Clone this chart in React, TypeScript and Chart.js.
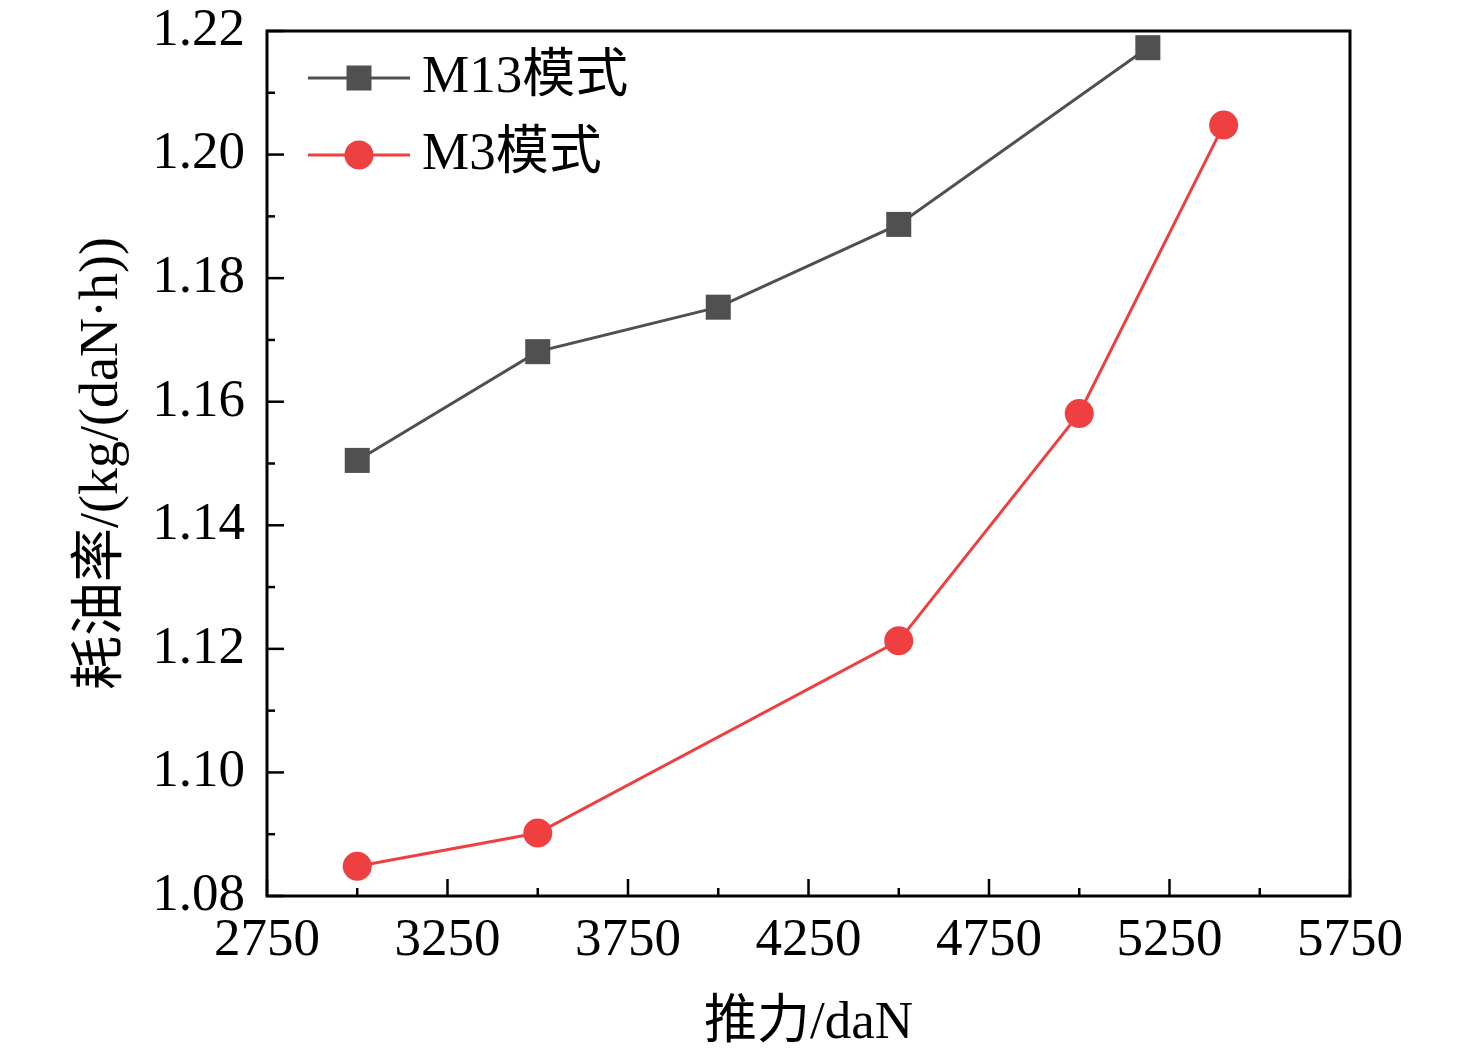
import React, { useEffect, useRef } from "react";
import { Chart, registerables } from "chart.js";

Chart.register(...registerables);

const m13X = [3000, 3500, 4000, 4500, 5190];
const m13Y = [1.1505, 1.1681, 1.1753, 1.1887, 1.2173];
const m3X = [3000, 3500, 4500, 5000, 5400];
const m3Y = [1.0848, 1.0902, 1.1213, 1.1581, 1.2048];
const seriesLabels = ["M13模式", "M3模式"];
const xTickValues = [2750, 3250, 3750, 4250, 4750, 5250, 5750];
const yTickValues = [1.08, 1.1, 1.12, 1.14, 1.16, 1.18, 1.2, 1.22];
const xTitle = "推力/daN";
const yTitle = "耗油率/(kg/(daN·h))";

const FONT = '"Liberation Serif", "Times New Roman", "Noto Sans CJK SC", serif';
const GRAY = "#505050";
const RED = "#ee4040";

const frame = {
  id: "frame",
  afterDraw(chart: any) {
    const { ctx, chartArea: a, scales } = chart;
    ctx.save();
    ctx.strokeStyle = "#000";
    ctx.lineWidth = 3;
    ctx.strokeRect(a.left, a.top, a.right - a.left, a.bottom - a.top);
    ctx.lineWidth = 2.5;
    const xs = scales.x;
    const ys = scales.y;
    for (let i = 0; i < xTickValues.length; i++) {
      const v = xTickValues[i];
      const px = xs.getPixelForValue(v);
      ctx.beginPath();
      ctx.moveTo(px, a.bottom);
      ctx.lineTo(px, a.bottom - 17);
      ctx.stroke();
      if (i < xTickValues.length - 1) {
        const mv = (v + xTickValues[i + 1]) / 2;
        const mp = xs.getPixelForValue(mv);
        ctx.beginPath();
        ctx.moveTo(mp, a.bottom);
        ctx.lineTo(mp, a.bottom - 8);
        ctx.stroke();
      }
    }
    for (let i = 0; i < yTickValues.length; i++) {
      const v = yTickValues[i];
      const py = ys.getPixelForValue(v);
      ctx.beginPath();
      ctx.moveTo(a.left, py);
      ctx.lineTo(a.left + 17, py);
      ctx.stroke();
      if (i < yTickValues.length - 1) {
        const mv = (v + yTickValues[i + 1]) / 2;
        const mp = ys.getPixelForValue(mv);
        ctx.beginPath();
        ctx.moveTo(a.left, mp);
        ctx.lineTo(a.left + 8, mp);
        ctx.stroke();
      }
    }
    const rows = [a.top + 47, a.top + 124];
    chart.data.datasets.forEach((ds: any, i: number) => {
      const y = rows[i];
      ctx.strokeStyle = ds.borderColor;
      ctx.lineWidth = 3;
      ctx.beginPath();
      ctx.moveTo(a.left + 41, y);
      ctx.lineTo(a.left + 143, y);
      ctx.stroke();
      ctx.fillStyle = ds.backgroundColor;
      if (ds.pointStyle === "rect") {
        ctx.fillRect(a.left + 92 - 12.5, y - 12.5, 25, 25);
      } else {
        ctx.beginPath();
        ctx.arc(a.left + 92, y, 14.5, 0, Math.PI * 2);
        ctx.fill();
      }
      ctx.fillStyle = "#000";
      ctx.font = `53px ${FONT}`;
      ctx.textBaseline = "middle";
      ctx.textAlign = "left";
      ctx.fillText(ds.label, a.left + 155, y);
    });
    ctx.restore();
  },
};

export default function App() {
  const ref = useRef<HTMLCanvasElement>(null);
  useEffect(() => {
    if (!ref.current) return;
    const chart = new Chart(ref.current, {
      type: "line",
      data: {
        datasets: [
          {
            label: seriesLabels[0],
            data: m13X.map((x, i) => ({ x, y: m13Y[i] })),
            borderColor: GRAY,
            backgroundColor: GRAY,
            borderWidth: 3,
            pointStyle: "rect",
            pointRadius: 17.7,
            pointBorderWidth: 0,
            tension: 0,
          },
          {
            label: seriesLabels[1],
            data: m3X.map((x, i) => ({ x, y: m3Y[i] })),
            borderColor: RED,
            backgroundColor: RED,
            borderWidth: 3,
            pointStyle: "circle",
            pointRadius: 14.5,
            pointBorderWidth: 0,
            tension: 0,
          },
        ],
      },
      options: {
        animation: false,
        responsive: false,
        maintainAspectRatio: false,
        devicePixelRatio: 1,
        layout: { padding: { top: 31, right: 126, left: 0, bottom: 0 } },
        plugins: { legend: { display: false }, tooltip: { enabled: false } },
        scales: {
          x: {
            type: "linear",
            min: 2750,
            max: 5750,
            afterBuildTicks: (s: any) => {
              s.ticks = xTickValues.map((v) => ({ value: v }));
            },
            afterFit: (s: any) => {
              s.height = 163;
              s.paddingLeft = 0;
              s.paddingRight = 0;
            },
            grid: { display: false, drawTicks: false },
            border: { display: false },
            ticks: {
              color: "#000",
              font: { family: FONT, size: 53 },
              padding: 13,
              maxRotation: 0,
              autoSkip: false,
              callback: (v: any) => String(v),
            },
            title: {
              display: true,
              text: xTitle,
              color: "#000",
              font: { family: FONT, size: 53, lineHeight: 1.2 },
              padding: { top: 0, bottom: 3 },
            },
          },
          y: {
            type: "linear",
            min: 1.08,
            max: 1.22,
            afterBuildTicks: (s: any) => {
              s.ticks = yTickValues.map((v) => ({ value: v }));
            },
            afterFit: (s: any) => {
              s.width = 267;
              s.paddingTop = 0;
              s.paddingBottom = 0;
            },
            grid: { display: false, drawTicks: false },
            border: { display: false },
            ticks: {
              color: "#000",
              font: { family: FONT, size: 53 },
              padding: 22,
              autoSkip: false,
              callback: (v: any) => Number(v).toFixed(2),
            },
            title: {
              display: true,
              text: yTitle,
              color: "#000",
              font: { family: FONT, size: 54, lineHeight: 1.2 },
              padding: { top: 70, bottom: 0 },
            },
          },
        },
      },
      plugins: [frame],
    });
    return () => chart.destroy();
  }, []);
  return (
    <div style={{ position: "fixed", left: 0, top: 0, width: 1476, height: 1059, background: "#fff" }}>
      <canvas ref={ref} width={1476} height={1059} style={{ width: 1476, height: 1059 }} />
    </div>
  );
}
